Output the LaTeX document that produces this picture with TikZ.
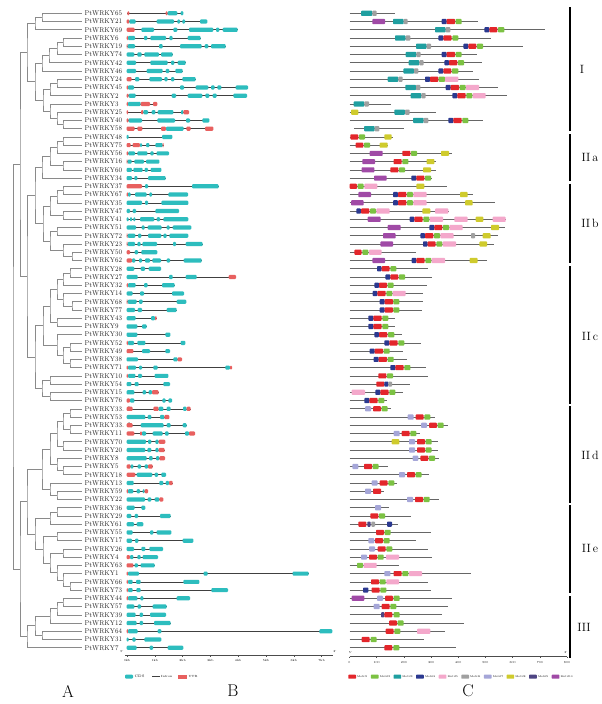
\documentclass[tikz,border=0pt]{standalone}
\usetikzlibrary{calc}
\definecolor{gc}{HTML}{2DBDBE}
\definecolor{gu}{HTML}{E8605F}
\definecolor{m1}{HTML}{E3262B}
\definecolor{m2}{HTML}{7CC243}
\definecolor{m3}{HTML}{1F9FA0}
\definecolor{m4}{HTML}{2B3990}
\definecolor{m5}{HTML}{F4A8CB}
\definecolor{m6}{HTML}{A0A0A0}
\definecolor{m7}{HTML}{A5A6D8}
\definecolor{m8}{HTML}{CFCB2D}
\definecolor{m9}{HTML}{4E4583}
\definecolor{m10}{HTML}{A04AA6}
\definecolor{treec}{HTML}{8A8A8A}
\tikzset{
 tree/.style={draw=treec, line width=0.6pt},
 intron/.style={draw=black!75, line width=0.6pt},
 mline/.style={draw=black!60, line width=0.7pt},
 lab/.style={font=\fontsize{5.8}{6}\selectfont, text=black!85, inner sep=0pt, anchor=west},
 tinytxt/.style={font=\fontsize{3}{3.5}\selectfont, inner sep=0pt},
 grp/.style={font=\fontsize{12}{12}\selectfont, inner sep=0pt},
 panel/.style={font=\fontsize{17}{17}\selectfont, inner sep=0pt},
 gbar/.style={line width=1.3pt, draw=black},
}
\newcommand\GR[4]{\pgfmathsetmacro\yy{13.3+8.24*(#1-1)}%
 \draw[intron] ({120+#2/3},\yy) -- ({120+#3/3},\yy);%
 \foreach \ty/\ta/\tb in {#4}{\fill[fill=g\ty, rounded corners=1pt] ({120+\ta/3},{\yy-2.1}) rectangle ({120+\tb/3},{\yy+2.1});}}
\newcommand\MR[4]{\pgfmathsetmacro\yy{13.3+8.24*(#1-1)}%
 \draw[mline] ({345+#2/3},\yy) -- ({345+#3/3},\yy);%
 \foreach \ty/\ta/\tb in {#4}{\fill[fill=m\ty, rounded corners=0.8pt] ({345+\ta/3},{\yy-2.6}) rectangle ({345+\tb/3},{\yy+2.6});}}
\newcommand\J[4]{\path let \p1=($(#2)!0.5!(#3)$) in coordinate (#1) at (#4pt,\y1);
 \draw[tree] (#2) -| (#1) |- (#3);}
\begin{document}
\begin{tikzpicture}[x=1pt,y=-1pt]
\useasboundingbox (0,0) rectangle (602,704);
\fill[white] (0,0) rectangle (602,704);
% leaves and labels
\foreach \nm [count=\i] in {65,21,69,6,19,74,42,46,24,45,2,3,25,40,58,48,75,56,16,60,34,37,67,35,47,41,51,72,23,50,62,28,27,32,14,68,77,43,9,30,52,49,38,71,10,54,15,76,33. 1,53,33. 2,11,70,20,8,5,18,13,59,22,36,29,61,55,17,26,4,63,1,66,73,44,57,39,12,64,31,7}{
 \coordinate (L\i) at (81.5,{13.3+8.24*(\i-1)});
 \node[lab] (n\i) at (84.5,{13.3+8.24*(\i-1)}) {\scalebox{1}[1.2]{PtWRKY\nm}};
}
% tree
\J{a1}{L1}{L2}{42}
\J{a2}{a1}{L3}{35}
\J{a3}{L4}{L5}{63}
\J{a4}{a3}{L6}{57}
\J{a5}{a4}{L7}{49}
\J{a6}{a5}{L8}{42}
\J{a7}{L9}{L10}{57}
\J{a8}{a7}{L11}{50}
\J{a9}{L14}{L15}{63}
\J{a10}{L13}{a9}{57}
\J{a11}{L12}{a10}{50}
\J{a12}{a8}{a11}{43}
\J{a13}{a6}{a12}{35}
\J{gI}{a2}{a13}{27}
\J{b1}{L16}{L17}{63}
\J{b2}{b1}{L18}{57}
\J{b3}{L19}{L20}{63}
\J{b4}{b2}{b3}{50}
\J{b5}{b4}{L21}{42}
\J{c1}{L22}{L23}{63}
\J{c2}{c1}{L24}{57}
\J{c3}{L25}{L26}{63}
\J{c4}{c2}{c3}{50}
\J{c5}{L27}{L28}{57}
\J{c6}{L30}{L31}{72}
\J{c7}{L29}{c6}{63}
\J{c8}{c5}{c7}{50}
\J{c9}{c4}{c8}{43}
\J{gIIab}{b5}{c9}{35}
\J{d1}{L32}{L33}{70}
\J{d2}{d1}{L34}{63}
\J{d3}{L36}{L37}{72}
\J{d4}{L35}{d3}{63}
\J{d5}{d2}{d4}{57}
\J{d6}{L38}{L39}{57}
\J{d7}{d5}{d6}{50}
\J{d8}{L41}{L42}{70}
\J{d9}{L43}{L44}{70}
\J{d10}{d8}{d9}{63}
\J{d11}{L40}{d10}{57}
\J{d12}{d7}{d11}{43}
\J{d13}{L45}{L46}{50}
\J{d14}{L47}{L48}{50}
\J{d15}{d13}{d14}{42}
\J{gIIc}{d12}{d15}{35}
\J{e1}{L49}{L50}{70}
\J{e2}{L51}{L52}{70}
\J{e3}{e1}{e2}{63}
\J{e4}{L53}{L54}{63}
\J{e5}{e3}{e4}{57}
\J{e6}{L56}{L57}{63}
\J{e7}{L55}{e6}{57}
\J{e8}{e5}{e7}{50}
\J{e9}{L59}{L60}{57}
\J{e10}{L58}{e9}{50}
\J{e11}{e8}{e10}{42}
\J{f1}{L61}{L62}{57}
\J{f2}{f1}{L63}{50}
\J{f3}{L64}{L65}{57}
\J{f4}{L66}{L67}{63}
\J{f5}{L70}{L71}{70}
\J{f6}{L69}{f5}{63}
\J{f7}{L68}{f6}{57}
\J{f8}{f4}{f7}{50}
\J{f9}{f3}{f8}{43}
\J{f10}{f2}{f9}{35}
\J{gIIde}{e11}{f10}{27}
\J{g1}{L72}{L73}{63}
\J{g2}{g1}{L74}{57}
\J{g3}{g2}{L75}{50}
\J{g4}{L76}{L77}{42}
\J{g5}{g3}{g4}{35}
\J{gIII}{g5}{L78}{27}
\J{X}{gIIab}{gIIc}{27}
\J{U}{gI}{X}{20}
\J{Lo}{gIIde}{gIII}{20}
\J{R}{U}{Lo}{13}
% gene structures
\GR{1}{22}{190}{u/22/28,u/137/143,c/143/172,c/182/190}
\GR{2}{20}{262}{u/20/28,c/28/47,c/110/162,c/172/180,c/187/195,c/240/262}
\GR{3}{20}{353}{u/20/44,c/64/102,c/160/172,c/207/280,c/288/298,c/308/353}
\GR{4}{20}{242}{u/20/24,c/24/45,c/72/82,c/91/138,c/148/158,c/203/242}
\GR{5}{20}{317}{u/20/23,c/23/45,c/117/128,c/180/245,c/254/265,c/273/317}
\GR{6}{20}{158}{c/20/43,c/52/65,c/73/117,c/123/158}
\GR{7}{20}{197}{c/20/48,c/91/143,c/153/163,c/173/197}
\GR{8}{20}{188}{c/20/48,c/80/128,c/137/148,c/166/188}
\GR{9}{20}{227}{u/20/35,c/45/58,c/88/126,c/133/143,c/153/163,c/187/227}
\GR{10}{20}{384}{u/20/24,c/24/42,c/180/192,c/227/265,c/273/284,c/292/304,c/347/384}
\GR{11}{20}{381}{u/20/26,c/26/47,c/155/168,c/203/247,c/256/268,c/278/290,c/340/381}
\GR{12}{20}{112}{u/20/24,c/24/62,u/62/90,u/99/112}
\GR{13}{20}{207}{u/20/24,u/63/70,c/70/84,c/95/106,c/113/160,c/183/190,u/190/207}
\GR{14}{20}{268}{u/20/26,c/26/66,c/112/165,c/198/210,c/247/268}
\GR{15}{20}{280}{u/20/44,u/52/67,u/123/138,c/138/191,u/199/212,u/255/280}
\GR{16}{20}{157}{c/20/26,c/126/157}
\GR{17}{20}{131}{u/20/32,u/38/60,c/60/66,c/78/88,c/106/128,u/128/131}
\GR{18}{20}{147}{u/20/25,c/25/45,c/52/82,c/91/101,c/110/147}
\GR{19}{20}{118}{u/20/23,c/23/35,c/43/72,c/78/118}
\GR{20}{20}{124}{c/20/36,c/40/68,c/74/84,c/92/124}
\GR{21}{20}{137}{c/20/36,c/43/52,c/84/137}
\GR{22}{20}{296}{u/20/66,c/75/84,c/216/296}
\GR{23}{20}{204}{u/20/24,c/24/32,c/45/80,c/88/96,c/145/204}
\GR{24}{20}{205}{c/20/66,c/75/84,c/124/205}
\GR{25}{20}{177}{c/20/30,c/38/48,c/106/177}
\GR{26}{20}{205}{c/20/26,c/30/36,c/40/46,c/60/103,c/110/120,c/130/205}
\GR{27}{20}{214}{c/20/48,c/65/74,c/83/125,c/140/149,c/158/214}
\GR{28}{20}{205}{u/20/23,c/23/46,c/54/64,c/84/124,c/130/140,c/148/205}
\GR{29}{20}{248}{u/20/23,c/23/45,c/52/62,c/67/111,c/159/168,c/197/248}
\GR{30}{20}{112}{u/20/30,c/44/54,c/64/112}
\GR{31}{20}{245}{u/20/36,c/36/46,c/57/66,c/75/90,c/97/123,c/140/150,c/191/245}
\GR{32}{20}{123}{c/20/43,c/62/75,c/86/123}
\GR{33}{20}{348}{c/20/53,c/147/158,c/197/230,u/326/348}
\GR{34}{20}{164}{u/20/24,c/24/47,c/72/83,c/126/164}
\GR{35}{20}{192}{c/20/38,c/60/72,c/156/192}
\GR{36}{20}{199}{u/20/23,c/23/50,c/57/68,c/170/199}
\GR{37}{20}{170}{c/20/45,c/53/66,c/140/170}
\GR{38}{20}{110}{c/20/47,c/93/105,u/105/110}
\GR{39}{20}{80}{c/20/52,c/66/80}
\GR{40}{20}{151}{c/20/52,c/136/151}
\GR{41}{20}{196}{u/20/24,c/24/42,c/52/76,c/182/196}
\GR{42}{20}{150}{u/20/40,c/66/90,c/136/150}
\GR{43}{20}{186}{c/20/54,c/160/173,u/173/186}
\GR{44}{20}{336}{u/20/24,c/24/48,c/57/66,c/100/113,c/316/330,u/330/336}
\GR{45}{20}{145}{u/20/24,c/24/46,c/54/66,c/104/145}
\GR{46}{20}{150}{c/20/34,c/44/56,c/130/150}
\GR{47}{20}{116}{c/20/43,c/68/78,c/86/96,u/96/116}
\GR{48}{20}{156}{u/20/30,c/30/43,c/127/137,c/145/156}
\GR{49}{20}{212}{u/20/38,u/100/116,c/116/130,c/140/152,c/189/200,u/200/212}
\GR{50}{20}{148}{c/20/76,c/83/94,c/120/133,u/133/148}
\GR{51}{20}{200}{u/20/38,c/62/131,c/140/152,c/188/200}
\GR{52}{20}{225}{u/20/43,u/60/66,c/66/78,c/98/128,c/135/146,c/195/207,u/207/225}
\GR{53}{20}{136}{c/20/78,c/84/94,c/106/116,u/116/136}
\GR{54}{20}{134}{c/20/76,c/82/94,c/106/116,u/116/134}
\GR{55}{20}{135}{c/20/80,c/87/98,c/108/118,u/118/135}
\GR{56}{20}{98}{u/20/32,c/32/40,c/53/63,c/74/84,u/84/98}
\GR{57}{20}{138}{u/20/46,c/50/97,c/104/114,c/124/138}
\GR{58}{20}{158}{c/20/41,c/118/130,c/137/147,u/147/158}
\GR{59}{20}{84}{u/20/24,c/24/40,c/50/60,c/68/74,u/74/84}
\GR{60}{20}{130}{c/20/75,c/83/94,c/104/118,u/118/130}
\GR{61}{20}{76}{c/20/44,c/64/76}
\GR{62}{20}{152}{c/20/34,c/44/54,c/120/152}
\GR{63}{20}{70}{c/20/42,c/50/70}
\GR{64}{20}{154}{c/20/38,c/90/100,c/110/154}
\GR{65}{20}{220}{c/20/36,c/45/55,c/188/220}
\GR{66}{20}{129}{c/20/42,c/64/76,c/88/129}
\GR{67}{20}{114}{u/20/30,c/30/40,c/52/62,c/68/114}
\GR{68}{20}{104}{u/20/40,c/44/54,c/62/104}
\GR{69}{20}{566}{u/20/24,c/24/57,c/251/263,c/518/566}
\GR{70}{20}{238}{u/20/24,c/24/38,c/48/62,c/190/238}
\GR{71}{20}{324}{u/20/24,c/24/38,c/49/62,c/274/324}
\GR{72}{20}{210}{u/20/24,c/24/52,c/61/70,c/170/210}
\GR{73}{20}{140}{c/20/43,c/53/63,c/98/140}
\GR{74}{20}{138}{c/20/47,c/59/69,c/90/138}
\GR{75}{20}{152}{c/20/50,c/59/69,c/102/152}
\GR{76}{20}{637}{u/20/24,c/24/53,c/113/124,c/598/637}
\GR{77}{20}{124}{c/20/26,c/37/47,c/73/124}
\GR{78}{20}{190}{c/20/50,c/89/99,c/143/190}
% gene axis
\draw[black!70, line width=0.5pt] (125,655) coordinate (ga0) -- (333,655) coordinate (ga1);
\foreach \k in {0,...,7}{
 \draw[black!70, line width=0.4pt] ({127+27.8*\k},655) -- ({127+27.8*\k},656.5);
 \node[tinytxt] (gk\k) at ({127+27.8*\k},660) {\k kb};}
\node[tinytxt] (g5p) at (122,651.5) {5'};
\node[tinytxt] (g3p) at (335,651.5) {3'};
% gene legend
\fill[gc, rounded corners=1pt] (125,674.7) rectangle (133,678.7);
\node[tinytxt, anchor=west, font=\fontsize{3.6}{4}\selectfont] (lcds) at (134.5,676.7) {CDS};
\draw[intron] (152,676.7) -- (160,676.7);
\node[tinytxt, anchor=west] (lint) at (161,676.7) {Intron};
\fill[gu] (178,674.7) rectangle (187,678.7);
\node[tinytxt, anchor=west] (lutr) at (188.5,676.7) {UTR};
% motifs
\MR{1}{14}{150}{3/48/82,6/82/95}
\MR{2}{14}{400}{10/82/120,3/144/176,6/176/188,4/290/305,1/305/330,2/332/350}
\MR{3}{14}{600}{3/270/302,6/302/316,4/418/433,1/433/457,2/459/478}
\MR{4}{14}{437}{3/150/182,6/182/196,4/280/295,1/295/320,2/322/340}
\MR{5}{14}{533}{3/213/245,6/245/258,4/355/370,1/370/394,2/396/414}
\MR{6}{14}{397}{3/182/214,6/214/227,4/290/305,1/305/330,2/332/350}
\MR{7}{14}{410}{3/191/223,6/223/236,4/298/312,1/312/337,2/339/357}
\MR{8}{14}{385}{3/175/207,6/207/220,4/280/295,1/295/319,2/321/340}
\MR{9}{14}{402}{3/128/160,6/160/173,4/240/255,1/255/280,2/281/300,5/300/340}
\MR{10}{14}{458}{3/181/213,6/213/226,4/302/317,1/317/342,2/344/362,5/363/402}
\MR{11}{14}{485}{3/197/229,6/229/242,4/322/337,1/337/362,2/364/382,5/383/422}
\MR{12}{14}{137}{3/26/58,6/58/72}
\MR{13}{14}{272}{8/18/40,3/148/180,6/180/194}
\MR{14}{14}{414}{3/204/236,6/236/250,4/310/325,1/325/350,2/352/370}
\MR{15}{28}{178}{3/57/89,6/89/103}
\MR{16}{14}{145}{1/16/40,2/42/60,8/118/140}
\MR{17}{14}{130}{1/32/55,2/57/75,8/104/128}
\MR{18}{14}{320}{10/74/113,1/172/196,2/198/216,8/288/312}
\MR{19}{14}{273}{10/52/90,1/146/170,2/172/190,8/245/268}
\MR{20}{14}{272}{10/50/88,1/136/160,2/162/180,8/234/258}
\MR{21}{14}{260}{10/87/125,4/199/214,1/214/238,2/240/258}
\MR{22}{14}{305}{1/14/36,2/38/56,5/58/97,8/214/238}
\MR{23}{14}{385}{10/40/78,4/144/159,1/159/184,2/186/204,5/205/245,8/345/368}
\MR{24}{14}{450}{10/18/56,4/144/159,1/159/184,2/186/204,5/205/245,8/360/383}
\MR{25}{14}{312}{4/34/48,1/48/73,2/75/93,5/94/134,8/232/256,5/270/310}
\MR{26}{14}{482}{10/68/107,4/194/208,1/208/233,2/235/253,5/254/294,5/328/368,8/392/415,5/443/482}
\MR{27}{14}{480}{10/128/167,4/253/268,1/268/292,2/294/312,5/313/353,8/438/462}
\MR{28}{14}{458}{10/114/152,4/226/240,1/240/265,2/267/285,5/286/326,6/378/390,8/413/437}
\MR{29}{14}{448}{10/106/144,4/234/248,1/248/272,2/274/292,5/293/333,8/403/426}
\MR{30}{14}{212}{1/28/50,2/52/70,5/72/110}
\MR{31}{14}{426}{10/82/120,4/200/214,1/214/239,2/241/259,5/260/300,8/374/398}
\MR{32}{14}{248}{4/96/110,1/110/134,2/136/154}
\MR{33}{14}{260}{4/121/136,1/136/160,2/162/180}
\MR{34}{14}{245}{4/88/102,1/102/126,2/128/146}
\MR{35}{14}{235}{4/83/97,1/97/122,2/124/142,5/143/182}
\MR{36}{14}{235}{4/104/119,1/119/144,2/145/163}
\MR{37}{14}{232}{4/104/119,1/119/144,2/145/163}
\MR{38}{14}{150}{4/70/85,1/85/110,2/112/130}
\MR{39}{14}{150}{4/70/85,1/85/110,2/112/130}
\MR{40}{14}{170}{4/88/102,1/102/127,2/129/148}
\MR{41}{14}{228}{4/118/133,1/133/158,2/160/178}
\MR{42}{14}{175}{4/74/89,1/89/114,2/116/134}
\MR{43}{14}{187}{4/86/101,1/101/126,2/128/146}
\MR{44}{14}{243}{4/136/151,1/151/176,2/178/196}
\MR{45}{14}{250}{1/100/124,2/126/144}
\MR{46}{14}{195}{1/94/118,4/118/130,6/130/141}
\MR{47}{14}{175}{5/20/60,4/91/106,1/106/131,2/133/151}
\MR{48}{14}{125}{4/58/73,1/73/98,2/100/118}
\MR{49}{14}{138}{7/60/78,1/84/108,2/110/128}
\MR{50}{14}{270}{7/188/206,1/212/236,2/238/256}
\MR{51}{14}{308}{7/228/246,1/252/276,2/278/296}
\MR{52}{14}{226}{7/146/164,1/170/194,2/196/214}
\MR{53}{14}{278}{8/140/163,7/192/210,1/216/240,2/242/260}
\MR{54}{14}{278}{7/192/210,1/216/240,2/242/260}
\MR{55}{14}{282}{7/203/220,1/226/250,2/252/270}
\MR{56}{14}{128}{7/22/40,1/57/81,2/83/101}
\MR{57}{14}{252}{7/162/180,1/186/210,2/212/230}
\MR{58}{14}{155}{7/80/98,1/104/128,2/130/148}
\MR{59}{14}{118}{7/60/78,1/84/108}
\MR{60}{14}{282}{7/186/204,1/210/234,2/236/254}
\MR{61}{14}{133}{7/90/108}
\MR{62}{14}{198}{1/76/100,2/102/120}
\MR{63}{14}{158}{1/40/64,9/67/77,6/79/90,4/126/141}
\MR{64}{14}{257}{1/93/117,2/119/137}
\MR{65}{14}{214}{7/70/88,1/90/114,2/116/134}
\MR{66}{14}{248}{7/72/90,1/98/122,2/124/142}
\MR{67}{14}{262}{7/48/66,1/72/96,2/98/116,5/123/162}
\MR{68}{14}{162}{2/36/54,5/56/95}
\MR{69}{14}{377}{7/118/136,1/146/170,2/172/190,5/192/231}
\MR{70}{14}{250}{1/78/102,2/104/122,5/124/162}
\MR{71}{14}{258}{4/54/70,1/80/104,2/106/124}
\MR{72}{14}{320}{10/20/58,7/96/114,1/120/144,2/146/164}
\MR{73}{14}{310}{7/86/104,1/110/134,2/136/154}
\MR{74}{14}{290}{9/108/118,1/118/142,2/146/164}
\MR{75}{14}{358}{1/132/156,2/158/176}
\MR{76}{14}{300}{1/122/146,2/148/166,5/216/256}
\MR{77}{14}{238}{1/50/74,2/77/95}
\MR{78}{14}{332}{1/118/142,2/145/163}
% motif axis
\draw[black!70, line width=0.5pt] (349.5,656.5) coordinate (ma0) -- (567,656.5) coordinate (ma1);
\foreach \k in {0,...,8}{
 \draw[black!70, line width=0.4pt] ({349.5+27.19*\k},656.5) -- ({349.5+27.19*\k},658);
 \pgfmathtruncatemacro\lbl{100*\k}
 \node[tinytxt] (mk\k) at ({349.5+27.19*\k},662.5) {\lbl};}
\node[tinytxt] (m5p) at (350.5,652.5) {5'};
\node[tinytxt] (m3p) at (566,652.5) {3'};
% motif legend
\foreach \k in {1,...,10}{
 \fill[m\k, rounded corners=0.6pt] ({348.3+22.6*(\k-1)},674.7) rectangle ({356+22.6*(\k-1)},678.7);
 \node[tinytxt, anchor=west, font=\fontsize{2.6}{3}\selectfont] (ml\k) at ({357+22.6*(\k-1)},676.7) {Motif\k};}
% group bars
\draw[gbar] (570,7.3) -- (570,131);
\draw[gbar] (570,134) -- (570,181);
\draw[gbar] (570,183.5) -- (570,263);
\draw[gbar] (570,266) -- (570,403.5);
\draw[gbar] (570,406) -- (570,502.5);
\draw[gbar] (570,505) -- (570,593);
\draw[gbar] (570,596) -- (570,658);
\node[grp] (gl1) at (582,69) {I};
\node[grp] (gl2) at (590,157) {II\,a};
\node[grp] (gl3) at (590,223) {II\,b};
\node[grp] (gl4) at (590,336) {II\,c};
\node[grp] (gl5) at (590,455) {II\,d};
\node[grp] (gl6) at (590,548) {II\,e};
\node[grp] (gl7) at (584,627) {III};
% panel letters
\node[panel] (pA) at (68,691) {A};
\node[panel] (pB) at (233,691) {B};
\node[panel] (pC) at (468,691) {C};
\end{tikzpicture}
\end{document}
